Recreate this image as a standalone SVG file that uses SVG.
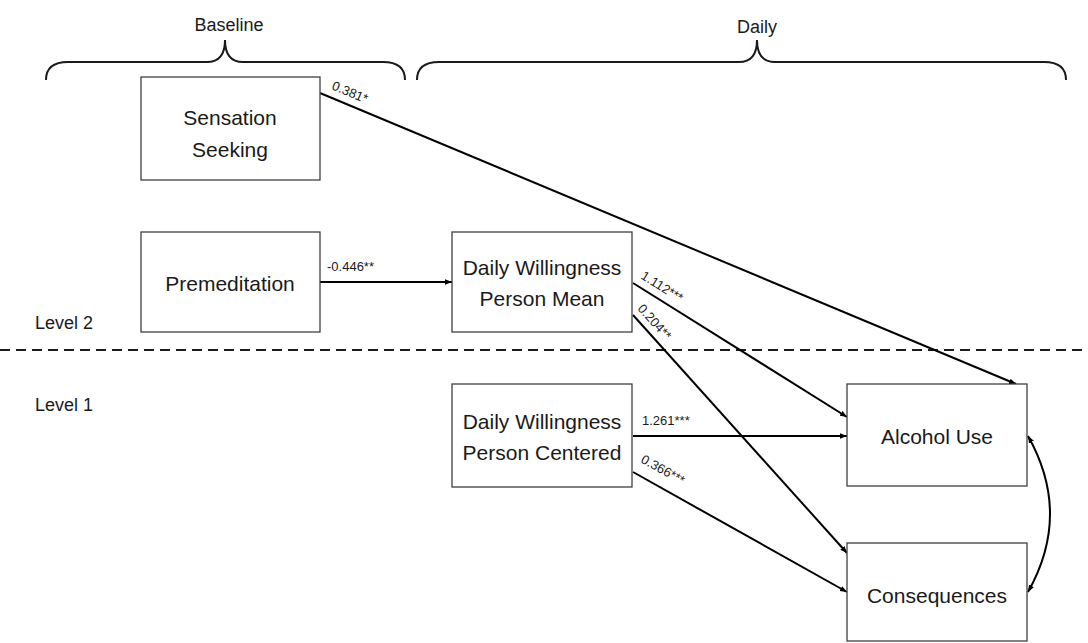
<svg xmlns="http://www.w3.org/2000/svg" width="1088" height="643" viewBox="0 0 1088 643">
<defs>
<marker id="ah" viewBox="0 0 10 10" refX="10" refY="5" markerWidth="7" markerHeight="7" orient="auto-start-reverse" markerUnits="userSpaceOnUse">
<path d="M0,1 L10,5 L0,9 Z" fill="#000"/>
</marker>
<style>
.box{fill:#fff;stroke:#404040;stroke-width:1.3}
.t{font-family:"Liberation Sans",Arial,sans-serif;font-size:21px;fill:#1a1a1a;text-anchor:middle}
.h{font-family:"Liberation Sans",Arial,sans-serif;font-size:18px;fill:#1a1a1a}
.l{font-family:"Liberation Sans",Arial,sans-serif;font-size:13px;fill:#1a1a1a}
.c{fill:none;stroke:#000;stroke-width:2}
.br{fill:none;stroke:#1a1a1a;stroke-width:2}
</style>
</defs>
<rect width="1088" height="643" fill="#fff"/>
<g id="headers">
<text class="h" x="229" y="31" text-anchor="middle">Baseline</text>
<text class="h" x="757" y="33" text-anchor="middle">Daily</text>
<path class="br" d="M46,80 Q46,62 68,62 L207,62 Q225,62 225,40 Q225,62 243,62 L383,62 Q405,62 405,80"/>
<path class="br" d="M417,80 Q417,62 439,62 L739,62 Q757,62 757,40 Q757,62 775,62 L1044,62 Q1066,62 1066,80"/>
<text class="h" x="35" y="329">Level 2</text>
<text class="h" x="35" y="411">Level 1</text>
<line x1="0" y1="350" x2="1088" y2="350" stroke="#1a1a1a" stroke-width="2" stroke-dasharray="10,6"/>
</g>
<g id="connectors">
<line class="c" x1="320" y1="93" x2="1016" y2="384" marker-end="url(#ah)"/>
<line class="c" x1="320" y1="282" x2="452" y2="282" marker-end="url(#ah)"/>
<line class="c" x1="633" y1="283" x2="847" y2="417" marker-end="url(#ah)"/>
<line class="c" x1="633" y1="315" x2="847" y2="553" marker-end="url(#ah)"/>
<line class="c" x1="633" y1="436" x2="847" y2="436" marker-end="url(#ah)"/>
<line class="c" x1="633" y1="472" x2="847" y2="592" marker-end="url(#ah)"/>
<path class="c" d="M1028,436 Q1072,514 1028,592" marker-start="url(#ah)" marker-end="url(#ah)"/>
<text class="l" transform="translate(331,89) rotate(22.6)">0.381*</text>
<text class="l" x="327" y="271">-0.446**</text>
<text class="l" transform="translate(640,278) rotate(32)">1.112***</text>
<text class="l" transform="translate(637,309) rotate(48)">0.204**</text>
<text class="l" x="642" y="425">1.261***</text>
<text class="l" transform="translate(640,462) rotate(29)">0.366***</text>
</g>
<g id="sensation-seeking">
<rect class="box" x="141" y="77" width="179" height="103"/>
<text class="t" x="230" y="125">Sensation</text>
<text class="t" x="230" y="157">Seeking</text>
</g>
<g id="premeditation">
<rect class="box" x="141" y="232" width="179" height="100"/>
<text class="t" x="230" y="291">Premeditation</text>
</g>
<g id="dw-person-mean">
<rect class="box" x="452" y="232" width="180" height="100"/>
<text class="t" x="542" y="275">Daily Willingness</text>
<text class="t" x="542" y="306">Person Mean</text>
</g>
<g id="dw-person-centered">
<rect class="box" x="452" y="384" width="180" height="103"/>
<text class="t" x="542" y="429">Daily Willingness</text>
<text class="t" x="542" y="460">Person Centered</text>
</g>
<g id="alcohol-use">
<rect class="box" x="847" y="384" width="180" height="102"/>
<text class="t" x="937" y="444">Alcohol Use</text>
</g>
<g id="consequences">
<rect class="box" x="847" y="543" width="180" height="98"/>
<text class="t" x="937" y="603">Consequences</text>
</g>
</svg>
